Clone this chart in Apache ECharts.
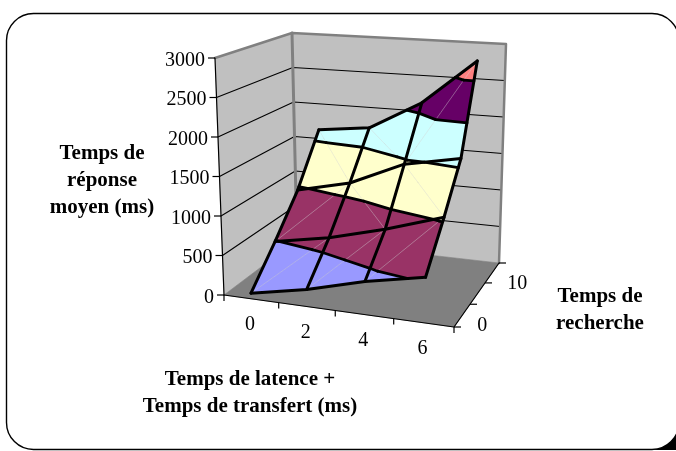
<!DOCTYPE html>
<html><head><meta charset="utf-8">
<style>html,body{margin:0;padding:0;background:#fff;overflow:hidden}#c{width:676px;height:451px}</style>
<script src="https://cdn.jsdelivr.net/npm/echarts@6/dist/echarts.min.js"></script>
</head><body><div id="c"></div>
<script>
// ---- Data ----
const latencyLabels = ['0', '2', '4', '6'];
const searchLabels = ['0', '10'];
const responseTicks = [0, 500, 1000, 1500, 2000, 2500, 3000];
const responseRow0 = [70, 210, 400, 540];
const responseRow1 = [490, 620, 810, 1040];
const responseRow2 = [965, 1130, 1450, 1590];
const responseRow3 = [1625, 1710, 2117, 2746];
const bandColors = ['#9999FF', '#993366', '#FFFFCC', '#CCFFFF', '#660066', '#FF8080'];
// cell diagonals: true = rising to the back-right corner
const diagRow0 = [true, true, true];
const diagRow1 = [true, false, false];
const diagRow2 = [false, false, true];

const rows = [responseRow0, responseRow1, responseRow2, responseRow3];
const diags = [diagRow0, diagRow1, diagRow2];
const zMax = 3000;

// ---- The view of the 3D box ----
const box = {
  flb: [224, 295], frb: [454, 327], blb: [297, 240], brb: [499, 263],
  flt: [215, 58], frt: [468, 72], blt: [292, 33], brt: [506, 44]
};
const mix = (a, b, t) => [a[0] + (b[0] - a[0]) * t, a[1] + (b[1] - a[1]) * t];
function project(u0, d0, z) {
  // perspective foreshortening along the two floor directions
  const u = u0 - 0.065 * u0 * (1 - u0);
  const d = d0 + 0.1 * d0 * (1 - d0);
  const bot = mix(mix(box.flb, box.frb, u), mix(box.blb, box.brb, u), d);
  const top = mix(mix(box.flt, box.frt, u), mix(box.blt, box.brt, u), d);
  return mix(bot, top, z / zMax);
}
const colU = c => (c + 0.5) / latencyLabels.length;
const rowD = r => r / (rows.length - 1);
const pt = (r, c) => ({ u: colU(c), d: rowD(r), z: rows[r][c] });

function lerpP(a, b, t) {
  return { u: a.u + (b.u - a.u) * t, d: a.d + (b.d - a.d) * t, z: a.z + (b.z - a.z) * t };
}
function clipBelow(poly, lv, keepBelow) {
  const out = [];
  for (let i = 0; i < poly.length; i++) {
    const a = poly[i], b = poly[(i + 1) % poly.length];
    const ina = keepBelow ? a.z <= lv : a.z >= lv;
    const inb = keepBelow ? b.z <= lv : b.z >= lv;
    if (ina) out.push(a);
    if (ina !== inb) out.push(lerpP(a, b, (lv - a.z) / (b.z - a.z)));
  }
  return out;
}

// ---- Build scene from the data ----
const fills = [], faint = [], contours = [], gridLines = [];
const triangles = [];
for (let r = 0; r < rows.length - 1; r++) {
  for (let c = 0; c < latencyLabels.length - 1; c++) {
    const a = pt(r, c), b = pt(r, c + 1), e = pt(r + 1, c + 1), f = pt(r + 1, c);
    if (diags[r][c]) {
      triangles.push([a, b, e], [a, e, f]); faint.push([a, e]);
    } else {
      triangles.push([a, b, f], [b, e, f]); faint.push([f, b]);
    }
  }
}
triangles.forEach(tri => {
  bandColors.forEach((col, i) => {
    const lo = responseTicks[i], hi = responseTicks[i + 1];
    let p = clipBelow(tri, hi, true);
    if (p.length) p = clipBelow(p, lo, false);
    if (p.length > 2) fills.push({ p, col });
  });
  responseTicks.slice(1, -1).forEach(lv => {
    const seg = [];
    for (let i = 0; i < 3; i++) {
      const a = tri[i], b = tri[(i + 1) % 3];
      if ((a.z < lv) !== (b.z < lv)) seg.push(lerpP(a, b, (lv - a.z) / (b.z - a.z)));
    }
    if (seg.length === 2) contours.push(seg);
  });
});
rows.forEach((row, r) => {
  gridLines.push(row.map((_, c) => pt(r, c)));
});
latencyLabels.forEach((_, c) => {
  gridLines.push(rows.map((_, r) => pt(r, c)));
});

const P = o => project(o.u, o.d, o.z);
const M = (u, d, z) => ({ u, d, z });

// walls and floor
const planes = [
  { p: [M(0,0,0), M(0,1,0), M(0,1,zMax), M(0,0,zMax)], col: '#C0C0C0' },
  { p: [M(0,1,0), M(1,1,0), M(1,1,zMax), M(0,1,zMax)], col: '#C0C0C0' },
  { p: [M(0,0,0), M(1,0,0), M(1,1,0), M(0,1,0)], col: '#808080' }
];
const lines = [];
responseTicks.slice(1, -1).forEach(z => {
  lines.push({ p: [M(0,0,z), M(0,1,z), M(1,1,z)], col: '#000', w: 1.1 });
});
// wall edges
lines.push({ p: [M(0,0,zMax), M(0,1,zMax), M(1,1,zMax), M(1,1,0)], col: '#808080', w: 2.5 });
lines.push({ p: [M(0,1,zMax), M(0,1,0)], col: '#808080', w: 3 });
// axes
lines.push({ p: [M(0,0,0), M(0,0,zMax)], col: '#000', w: 1.2 });
lines.push({ p: [M(0,0,0), M(1,0,0), M(1,1,0)], col: '#000', w: 1.2 });

const ticks = [];
responseTicks.forEach(z => ticks.push({ at: M(0,0,z), dx: -7, dy: 0 }));
for (let i = 0; i <= latencyLabels.length; i++) ticks.push({ at: M(i / latencyLabels.length,0,0), dx: 0, dy: 6 });
for (let i = 0; i <= 3; i++) ticks.push({ at: M(1,i / 3,0), dx: 7, dy: 0 });

const font = 'Liberation Serif';
const texts = [];
responseTicks.forEach(z => {
  const q = project(0, 0, z);
  texts.push({ x: q[0] - 10, y: q[1] + 2.5, text: String(z), align: 'right' });
});
latencyLabels.forEach((t, c) => {
  const q = project(colU(c), 0, 0);
  texts.push({ x: q[0] - 1, y: q[1] + 26, text: t, align: 'center' });
});
searchLabels.forEach((t, i) => {
  const q = project(1, i === 0 ? 1 / 6 : 5 / 6, 0);
  texts.push({ x: q[0] + 15, y: q[1] + 10.5, text: t, align: 'left' });
});
const titles = [
  { x: 102, y: 181, text: 'Temps de\nréponse\nmoyen (ms)' },
  { x: 250, y: 393.5, text: 'Temps de latence +\nTemps de transfert (ms)' },
  { x: 600, y: 310.5, text: 'Temps de\nrecherche' }
];

function series(name, items, render, z) {
  return {
    type: 'custom', name, coordinateSystem: 'cartesian2d', silent: true, animation: false, clip: false, z,
    data: items.map((_, i) => [i, 0]),
    encode: { x: 0, y: 1 },
    renderItem: (params, api) => render(items[params.dataIndex], api)
  };
}
const px = (api, list) => list.map(o => api.coord(Array.isArray(o) ? o : P(o)));
const polyR = (o, api) => ({ type: 'polygon', shape: { points: px(api, o.p) }, style: { fill: o.col, stroke: o.col, lineWidth: 0.6 } });
const lineR = (w, col) => (o, api) => ({
  type: 'polyline', shape: { points: px(api, o.p || o) },
  style: { fill: 'none', stroke: (o.col || col), lineWidth: (o.w || w), lineCap: 'round', lineJoin: 'round' }
});

const option = {
  animation: false,
  backgroundColor: '#fff',
  grid: { left: 0, right: 0, top: 0, bottom: 0 },
  xAxis: { type: 'value', min: 0, max: 676, show: false },
  yAxis: { type: 'value', min: 0, max: 451, inverse: true, show: false },
  graphic: [
    { type: 'rect', z: -3, shape: { x: 652, y: 426, width: 24, height: 24 }, style: { fill: '#000' } },
    { type: 'rect', z: -2, shape: { x: 6.5, y: 13.5, width: 672.5, height: 436, r: 27 }, style: { fill: '#fff', stroke: '#000', lineWidth: 1.4 } }
  ],
  series: [
    series('planes', planes, polyR, 2),
    series('wallLines', lines.slice(0, lines.length - 2), lineR(1), 3),
    series('axes', lines.slice(lines.length - 2), lineR(1), 4),
    series('ticks', ticks, (o, api) => {
      const a = P(o.at);
      return { type: 'line', shape: { x1: api.coord(a)[0], y1: api.coord(a)[1], x2: api.coord([a[0] + o.dx, a[1] + o.dy])[0], y2: api.coord([a[0] + o.dx, a[1] + o.dy])[1] }, style: { stroke: '#000', lineWidth: 1.2 } };
    }, 4),
    series('bands', fills, polyR, 5),
    series('diagonals', faint, lineR(0.5, 'rgba(215,215,215,0.75)'), 6),
    series('contours', contours, lineR(2.8, '#000'), 7),
    series('surfaceGrid', gridLines, lineR(3, '#000'), 8),
    series('tickLabels', texts, (o, api) => {
      const q = api.coord([o.x, o.y]);
      return { type: 'text', x: q[0], y: q[1], style: { text: o.text, fill: '#000', font: '20px "' + font + '"', textAlign: o.align, textVerticalAlign: 'middle' } };
    }, 9),
    series('titles', titles, (o, api) => {
      const q = api.coord([o.x, o.y]);
      return { type: 'text', x: q[0], y: q[1], style: { text: o.text, fill: '#000', font: 'bold 21px "' + font + '"', lineHeight: 27, textAlign: 'center', textVerticalAlign: 'middle' } };
    }, 9)
  ]
};
echarts.init(document.getElementById('c'), null, { renderer: 'canvas' }).setOption(option);
</script></body></html>
